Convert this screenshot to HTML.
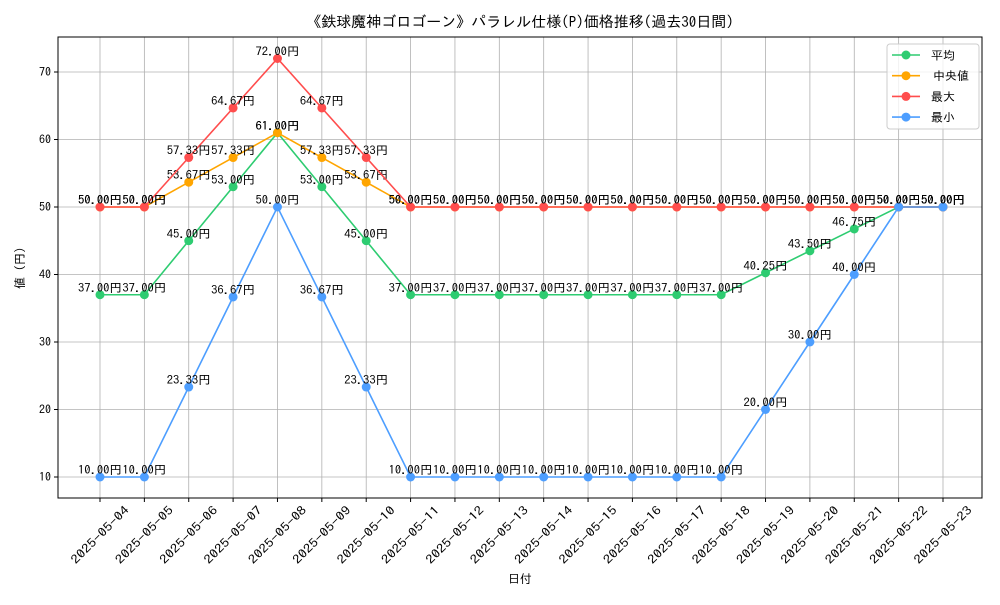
<!DOCTYPE html>
<html><head><meta charset="utf-8"><style>
body{margin:0;background:#fff}
text{font-family:"IPAGothic","Liberation Sans","Noto Sans CJK JP",sans-serif;fill:#000}
</style></head><body>
<svg id="c" width="1000" height="600" xmlns="http://www.w3.org/2000/svg">
<rect width="1000" height="600" fill="#fff"/>
<text x="520" y="27" font-size="15" text-anchor="middle">《鉄球魔神ゴロゴーン》パラレル仕様(P)価格推移(過去30日間)</text>
<g id="grid"></g>
<g id="series"></g>
<rect x="58" y="37" width="924" height="461" fill="none" stroke="#000" stroke-width="1"/>
<text x="520" y="583" font-size="12" text-anchor="middle">日付</text>
<text transform="translate(24,268) rotate(-90)" font-size="12" text-anchor="middle">値 (円)</text>
<g id="legend">
<rect x="887" y="44" width="92" height="85" rx="3" fill="#fff" fill-opacity="0.8" stroke="#ccc"/>
</g>
</svg>
<script>
const dates=["2025-05-04","2025-05-05","2025-05-06","2025-05-07","2025-05-08","2025-05-09","2025-05-10","2025-05-11","2025-05-12","2025-05-13","2025-05-14","2025-05-15","2025-05-16","2025-05-17","2025-05-18","2025-05-19","2025-05-20","2025-05-21","2025-05-22","2025-05-23"];
const avgVals=[37,37,45,53,61,53,45,37,37,37,37,37,37,37,37,40.25,43.5,46.75,50,50];
const medianVals=[50,50,53.67,57.33,61,57.33,53.67,50,50,50,50,50,50,50,50,50,50,50,50,50];
const maxVals=[50,50,57.33,64.67,72,64.67,57.33,50,50,50,50,50,50,50,50,50,50,50,50,50];
const minVals=[10,10,23.33,36.67,50,36.67,23.33,10,10,10,10,10,10,10,10,20,30,40,50,50];
const yTicks=[10,20,30,40,50,60,70];
const seriesNames=["平均","中央値","最大","最小"];
const colors=["#2ecc71","#ffa500","#ff4d4d","#4d9eff"];
const NS="http://www.w3.org/2000/svg";
const x=i=>100+i*(943-100)/(dates.length-1);
const y=v=>477-(v-10)*(405/60);
function mk(t,a,p){const e=document.createElementNS(NS,t);for(const k in a)e.setAttribute(k,a[k]);p.appendChild(e);return e;}
const grid=document.getElementById('grid');
yTicks.forEach(v=>{
 const l=mk('line',{x1:58,x2:982,y1:y(v),y2:y(v),stroke:'#b0b0b0','stroke-width':0.8},grid);
 
 
 mk('line',{x1:54,x2:58,y1:y(v),y2:y(v),stroke:'#000'},grid);
 const t=mk('text',{x:51,y:y(v)+4,'font-size':12,'text-anchor':'end'},grid);t.textContent=v;
 
 
});
dates.forEach((d,i)=>{
 const l=mk('line',{x1:x(i),x2:x(i),y1:37,y2:498,stroke:'#b0b0b0','stroke-width':0.8},grid);
 
 
 mk('line',{x1:x(i),x2:x(i),y1:498,y2:502,stroke:'#000'},grid);
 const cx=x(i),cy=535;
 const t=mk('text',{x:cx,y:cy+4,'font-size':12,'text-anchor':'middle',textLength:76,lengthAdjust:'spacingAndGlyphs',transform:`rotate(-45 ${cx} ${cy})`},grid);t.textContent=d;
 
 
});
const sg=document.getElementById('series');
[avgVals,medianVals,maxVals,minVals].forEach((vals,s)=>{
 const g=mk('g',{},sg);
 
 
 const pl=mk('polyline',{points:vals.map((v,i)=>x(i)+','+y(v)).join(' '),fill:'none',stroke:colors[s],'stroke-width':1.6},g);
 
 
 vals.forEach((v,i)=>{
  const c=mk('circle',{cx:x(i),cy:y(v),r:4.5,fill:colors[s]},g);
  
  
  const t=mk('text',{x:x(i),y:y(v)-3,'font-size':12,'text-anchor':'middle',textLength:44,lengthAdjust:'spacingAndGlyphs'},g);t.textContent=v.toFixed(2)+'円';
  
  
 });
});
const lg=document.getElementById('legend');
seriesNames.forEach((n,i)=>{
 const yy=55+i*20.7;
 const g=mk('g',{},lg);
 
 
 mk('line',{x1:892,x2:920,y1:yy,y2:yy,stroke:colors[i],'stroke-width':1.6},g);
 mk('circle',{cx:906,cy:yy,r:4.5,fill:colors[i]},g);
 const t=mk('text',{x:931+(i==1?2:0),y:yy+4.5,'font-size':12},g);t.textContent=n;
});
</script>
</body></html>
